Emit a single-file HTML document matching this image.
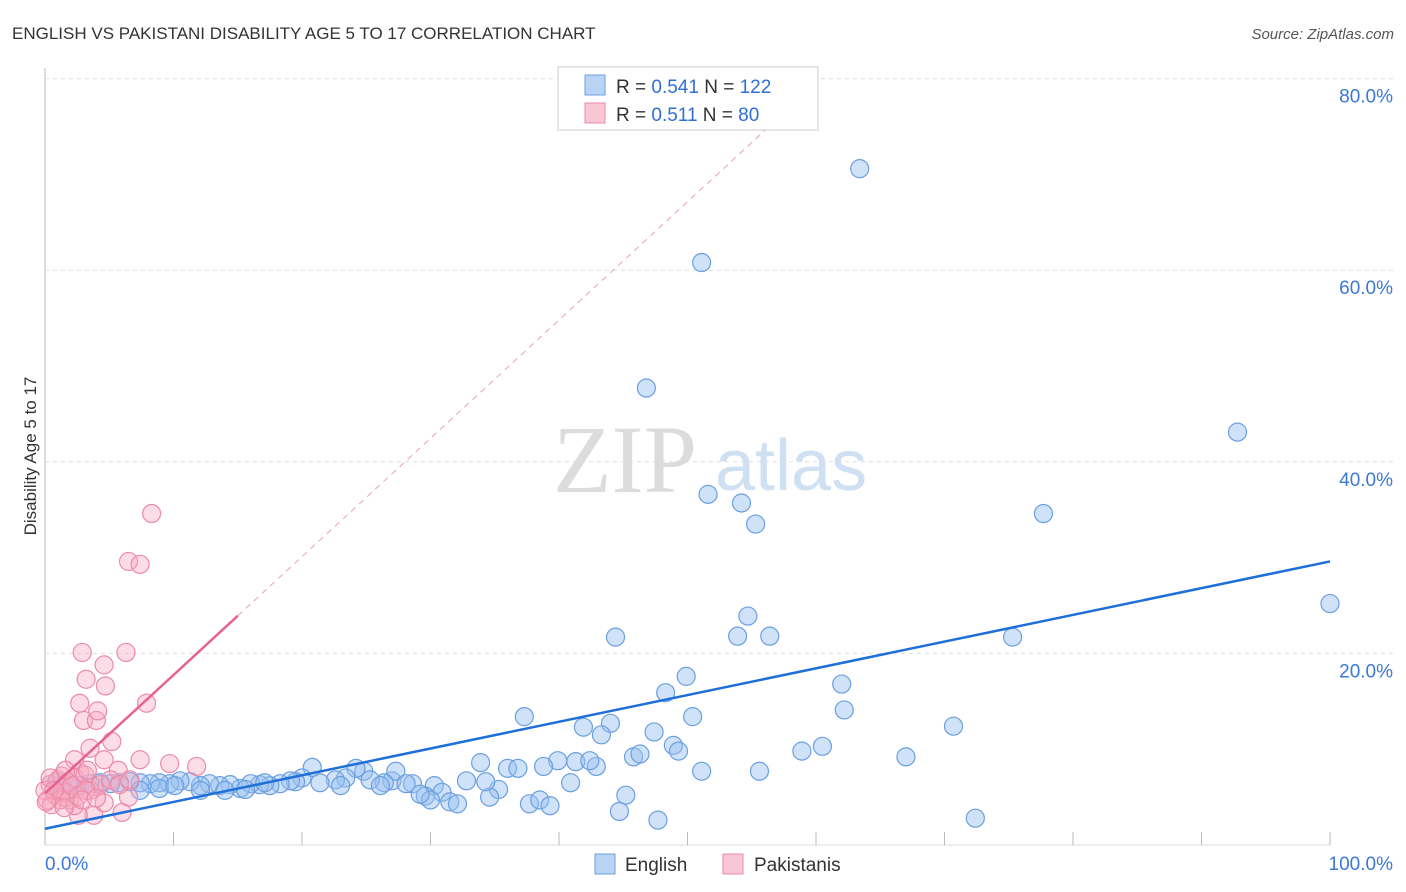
<!DOCTYPE html>
<html><head><meta charset="utf-8"><style>
body{margin:0;background:#fff;font-family:"Liberation Sans",sans-serif;}
svg{display:block}
</style></head><body>
<svg id="chart" width="1406" height="892" xmlns="http://www.w3.org/2000/svg">
<text x="12" y="39" font-size="17" fill="#333">ENGLISH VS PAKISTANI DISABILITY AGE 5 TO 17 CORRELATION CHART</text>
<text x="1394" y="39" font-size="15" fill="#555" font-style="italic" text-anchor="end">Source: ZipAtlas.com</text>
<text x="36" y="456" font-size="17" fill="#333" text-anchor="middle" transform="rotate(-90 36 456)">Disability Age 5 to 17</text>
<g>
<text x="553" y="492" font-size="96" font-family="Liberation Serif,serif" fill="#dcdcdc">ZIP</text>
<text x="715" y="490" font-size="72" fill="#cfe0f3">atlas</text>
</g>
<g id="grid"></g>
<g id="pts"></g>
<g id="lines"></g>
<g>
<rect x="558" y="67" width="260" height="63" fill="#fff" stroke="#ccc"/>
<rect x="585" y="75" width="20" height="20" fill="#b9d3f5" stroke="#6a9fe0"/>
<text x="616" y="93" font-size="19" fill="#333">R = <tspan fill="#2f6fd6">0.541</tspan>   N = <tspan fill="#2f6fd6">122</tspan></text>
<rect x="585" y="103" width="20" height="20" fill="#f9c6d5" stroke="#ec8aa8"/>
<text x="616" y="121" font-size="19" fill="#333">R =  <tspan fill="#2f6fd6">0.511</tspan>   N =  <tspan fill="#2f6fd6">80</tspan></text>
</g>
<g>
<rect x="595" y="854" width="20" height="20" fill="#b9d3f5" stroke="#6a9fe0"/>
<text x="625" y="871" font-size="19" fill="#333">English</text>
<rect x="723" y="854" width="20" height="20" fill="#f9c6d5" stroke="#ec8aa8"/>
<text x="754" y="871" font-size="19" fill="#333">Pakistanis</text>
</g>
</svg>
<script>
const yTicks=[20,40,60,80];
const xTickLabels=["0.0%","100.0%"];
const englishPx=[[860,169],[702,263],[647,388],[1238,432],[708,494],[742,503],[756,524],[1043,514],[1330,604],[615,637],[748,616],[738,636],[770,636],[1012,637],[686,676],[666,693],[842,684],[844,710],[692,717],[524,717],[584,727],[610,723],[602,735],[953,726],[654,732],[674,745],[822,746],[802,751],[678,751],[906,757],[634,757],[640,754],[558,761],[596,766],[576,762],[590,761],[544,766],[480,763],[508,768],[518,768],[702,771],[760,771],[570,783],[626,795],[620,811],[658,820],[975,818],[530,804],[540,800],[550,806],[498,789],[490,797],[486,782],[466,781],[434,786],[442,792],[426,796],[430,800],[450,802],[458,804],[412,784],[392,781],[396,771],[384,783],[406,784],[364,771],[356,768],[346,778],[336,780],[320,783],[312,767],[302,778],[296,782],[290,781],[280,784],[270,786],[260,785],[250,784],[240,788],[230,785],[220,786],[210,784],[200,786],[190,782],[180,781],[170,784],[160,783],[150,784],[140,783],[130,782],[120,783],[110,784],[100,783],[90,784],[80,786],[70,784],[60,786],[56,782],[340,786],[370,780],[380,786],[420,794],[140,790],[160,788],[200,790],[265,783],[175,786],[245,789],[225,790]];
const pakPx=[[152,514],[128,561],[140,564],[82,652],[126,652],[104,665],[86,679],[106,686],[80,703],[146,703],[84,720],[96,720],[98,711],[112,742],[90,748],[140,760],[170,764],[196,766],[74,760],[80,772],[118,770],[94,787],[122,812],[94,815],[78,815],[104,803],[128,797],[60,790],[50,785],[55,795],[65,798],[70,800],[48,800],[52,805],[58,780],[62,776],[68,782],[75,778],[85,775],[90,790],[100,785],[110,780],[45,790],[50,778],[60,800],[66,792],[72,786],[78,796],[86,790],[54,790],[120,785],[130,780],[88,770],[104,760],[66,770],[74,806],[82,800],[96,798],[46,802],[64,808]];
// convert to data values (x %, y %)
const englishX=englishPx.map(p=>+((p[0]-45)/12.85).toFixed(1));
const englishY=englishPx.map(p=>+((845-p[1])/9.58).toFixed(1));
const pakX=pakPx.map(p=>+((p[0]-45)/12.85).toFixed(1));
const pakY=pakPx.map(p=>+((845-p[1])/9.58).toFixed(1));
const englishTrend=[1.7,29.6];
const pakTrend=[5.4,1.235];
const X=v=>45+v*12.85, Y=v=>845-v*9.58;
const NS="http://www.w3.org/2000/svg";
function mk(tag,attrs,parent){const e=document.createElementNS(NS,tag);for(const k in attrs)e.setAttribute(k,attrs[k]);parent.appendChild(e);return e;}
const grid=document.getElementById('grid');
mk('line',{x1:45,y1:68,x2:45,y2:845,stroke:'#bbb'},grid);
mk('line',{x1:45,y1:845,x2:1330,y2:845,stroke:'#ddd'},grid);
for(let i=1;i<=10;i++){const l=mk('line',{x1:X(i*10),y1:832,x2:X(i*10),y2:845,stroke:'#bbb'},grid);

}
yTicks.forEach(t=>{const l=mk('line',{x1:45,y1:Y(t),x2:1394,y2:Y(t),stroke:'#ddd','stroke-dasharray':'4,4'},grid);


const tx=mk('text',{x:1393,y:Y(t)+24,'font-size':19,fill:'#3b78d8','text-anchor':'end'},grid);tx.textContent=t.toFixed(1)+'%';

});
const t0=mk('text',{x:45,y:870,'font-size':19,fill:'#3b78d8'},grid);t0.textContent=xTickLabels[0];


const t1=mk('text',{x:1393,y:870,'font-size':19,fill:'#3b78d8','text-anchor':'end'},grid);t1.textContent=xTickLabels[1];


const pts=document.getElementById('pts');
englishX.forEach((x,i)=>{const c=mk('circle',{cx:X(x),cy:Y(englishY[i]),r:9,fill:'rgba(150,190,240,0.45)',stroke:'#6a9fe0','stroke-width':1.2},pts);

});
pakX.forEach((x,i)=>{const c=mk('circle',{cx:X(x),cy:Y(pakY[i]),r:9,fill:'rgba(248,170,195,0.4)',stroke:'#ec8aa8','stroke-width':1.2},pts);

});
const lines=document.getElementById('lines');
const bl=mk('line',{x1:X(0),y1:Y(englishTrend[0]),x2:X(100),y2:Y(englishTrend[1]),stroke:'#1f6fd8','stroke-width':2.5},lines);


const pe=15, pd=(75-pakTrend[0])/pakTrend[1];
const pl=mk('line',{x1:X(0),y1:Y(pakTrend[0]),x2:X(pe),y2:Y(pakTrend[0]+pakTrend[1]*pe),stroke:'#e8628e','stroke-width':2.5},lines);


const pdl=mk('line',{x1:X(pe),y1:Y(pakTrend[0]+pakTrend[1]*pe),x2:X(pd),y2:Y(75),stroke:'#eaa0b8','stroke-width':1,'stroke-dasharray':'6,5'},lines);


</script>
</body></html>
